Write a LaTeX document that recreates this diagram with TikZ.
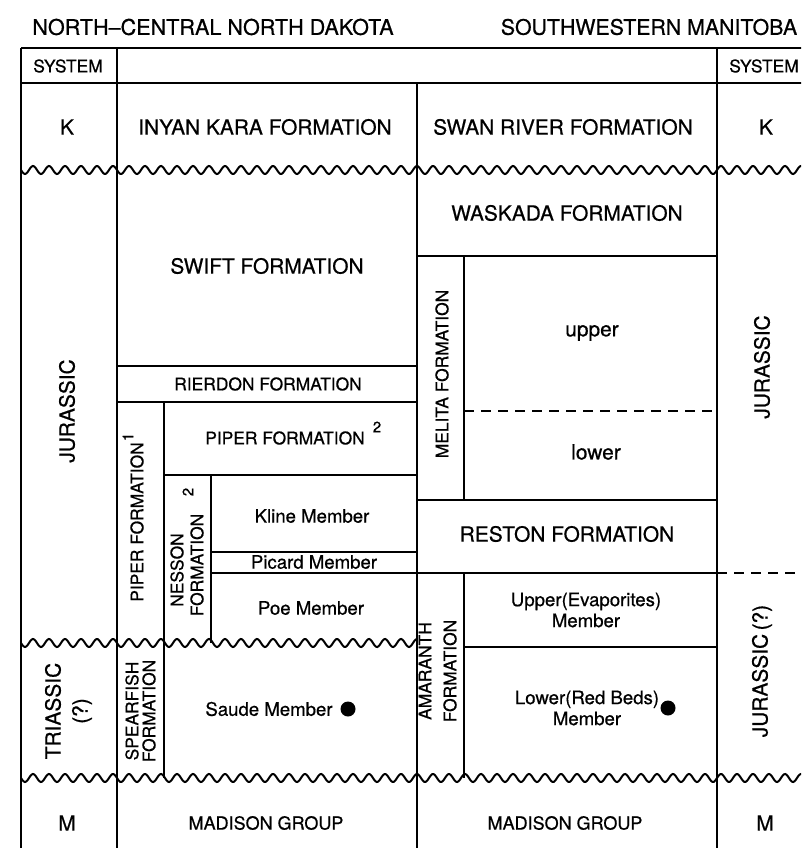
\documentclass[tikz,border=0pt]{standalone}
\usepackage{fontspec}
\setmainfont{TeX Gyre Heros}[FakeBold=0.6]
\begin{document}
\begin{tikzpicture}[x=1pt,y=-1pt,
  big/.style={font=\fontsize{20.9}{24}\selectfont, inner sep=0pt},
  med/.style={font=\fontsize{17.4}{19}\selectfont, inner sep=0pt},
  mem/.style={font=\fontsize{18.6}{21}\selectfont, inner sep=0pt, align=center},
  sup/.style={font=\fontsize{15}{17}\selectfont, inner sep=0pt},
  vert/.style={rotate=90},
  rule/.style={line width=1.5pt},
  wave/.style={line width=2pt},
  dash line/.style={line width=1.4pt, dash pattern=on 10pt off 7pt}]
\useasboundingbox (0,0) rectangle (801,848);
\clip (0,0) rectangle (801,848);
\fill[white] (0,0) rectangle (801,848);

% titles
\node[big, font=\fontsize{21.6}{24}\selectfont] (t1) at (213,27) {NORTH–CENTRAL NORTH DAKOTA};
\node[big, font=\fontsize{21.3}{24}\selectfont] (t2) at (649,27) {SOUTHWESTERN MANITOBA};

% frame and main columns
\draw[rule] (21,48) -- (813,48);
\draw[rule] (21,83) -- (813,83);
\draw[rule] (21,48) -- (21,860);
\draw[rule] (117,48) -- (117,860);
\draw[rule] (717,48) -- (717,860);
\draw[rule] (813,48) -- (813,860);
\draw[rule] (417,83) -- (417,860);

% wavy unconformities
\draw[wave] plot[domain=21:813, samples=600, smooth] (\x, {170+4*sin(mod(\x-21,16)*22.5)});
\draw[wave] plot[domain=21:417, samples=300, smooth] (\x, {643+4*sin(mod(\x-21,16)*22.5)});
\draw[wave] plot[domain=21:813, samples=600, smooth] (\x, {778+4*sin(mod(\x-21,16)*22.5)});

% North Dakota internal lines
\draw[rule] (117,366) -- (417,366);
\draw[rule] (117,402) -- (417,402);
\draw[rule] (164,402) -- (164,778);
\draw[rule] (164,475) -- (417,475);
\draw[rule] (211,475) -- (211,643);
\draw[rule] (211,552) -- (417,552);
\draw[rule] (211,573) -- (417,573);

% Manitoba internal lines
\draw[rule] (417,256) -- (717,256);
\draw[rule] (464,256) -- (464,500);
\draw[dash line] (464,411) -- (717,411);
\draw[rule] (417,500) -- (717,500);
\draw[rule] (417,573) -- (717,573);
\draw[dash line] (717,573) -- (813,573);
\draw[rule] (464,573) -- (464,778);
\draw[rule] (464,647) -- (717,647);

% header row
\node[med] (sys1) at (68,66) {SYSTEM};
\node[med] (sys2) at (764,66) {SYSTEM};

% K row
\node[big] (k1) at (67,127) {K};
\node[big] (k2) at (766,127) {K};
\node[big] (inyan) at (265,127) {INYAN KARA FORMATION};
\node[big] (swan) at (563,127) {SWAN RIVER FORMATION};

% Jurassic, North Dakota
\node[big, vert] (jur1) at (67,411) {JURASSIC};
\node[big] (swift) at (267,266) {SWIFT FORMATION};
\node[med] (rierdon) at (268,384) {RIERDON FORMATION};
\node[med] (piper2) at (285,438) {PIPER FORMATION};
\node[sup] (piper2s) at (377,427) {2};
\node[med, vert] (piper1) at (137,522) {PIPER FORMATION};
\node[sup, vert] (piper1s) at (128,437) {1};
\node[med, vert] (nes1) at (177,570) {NESSON};
\node[med, vert] (nes2) at (197,565) {FORMATION};
\node[sup, vert] (nes2s) at (188,492) {2};
\node[mem] (kline) at (312,516) {Kline Member};
\node[mem] (picard) at (314,562) {Picard Member};
\node[mem] (poe) at (311,608) {Poe Member};

% Triassic(?), North Dakota
\node[big, vert] (tri1) at (53,711) {TRIASSIC};
\node[big, vert] (tri2) at (82,711) {(?)};
\node[med, vert] (spe1) at (132,711) {SPEARFISH};
\node[med, vert] (spe2) at (149,711) {FORMATION};
\node[mem] (saude) at (269,709) {Saude Member};
\fill (348,709) circle[radius=7.5pt];

% Manitoba Jurassic
\node[big] (waskada) at (567,213) {WASKADA FORMATION};
\node[med, vert] (melita) at (442,374) {MELITA FORMATION};
\node[big] (upper) at (592,333) {upper};
\node[big] (lower) at (596,452) {lower};
\node[big] (reston) at (567,534) {RESTON FORMATION};
\node[big, vert] (jur2) at (762,367) {JURASSIC};
\node[mem] (upev) at (586,610) {Upper(Evaporites)\\Member};
\node[med, vert] (ama1) at (425,671) {AMARANTH};
\node[med, vert] (ama2) at (450,671) {FORMATION};
\node[mem] (lored) at (587,708) {Lower(Red Beds)\\Member};
\fill (668,708) circle[radius=7.5pt];
\node[big, vert] (jur3) at (762,671) {JURASSIC\,(?)};

% Mississippian
\node[big] (m1) at (67,823) {M};
\node[big] (m2) at (765,823) {M};
\node[font=\fontsize{18}{20}\selectfont, inner sep=0pt] (mad1) at (266,823) {MADISON GROUP};
\node[font=\fontsize{18}{20}\selectfont, inner sep=0pt] (mad2) at (565,823) {MADISON GROUP};
\end{tikzpicture}
\end{document}
